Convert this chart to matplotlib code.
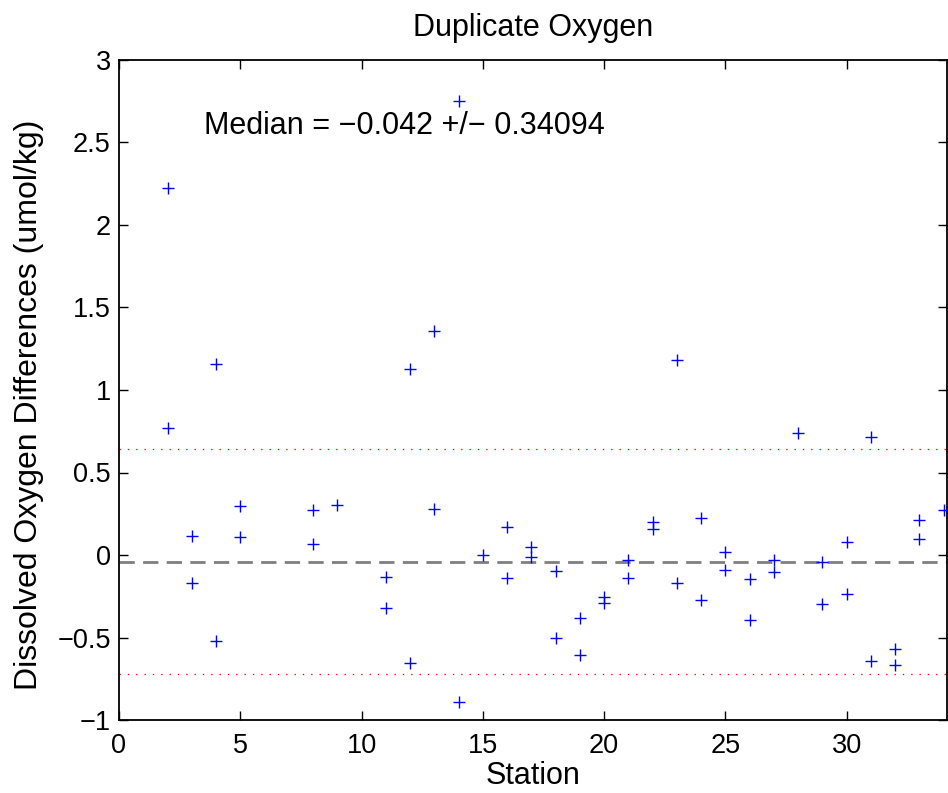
import numpy as np
import matplotlib
matplotlib.use("Agg")
import matplotlib.pyplot as plt

plt.rcParams['font.family'] = ['Liberation Sans', 'DejaVu Sans']
plt.rcParams['lines.scale_dashes'] = False

# duplicate oxygen differences, one entry per duplicate pair
station = [2, 2, 3, 3, 4, 4, 5, 5, 8, 8, 9, 11, 11, 12, 12, 13, 13, 14, 14, 15,
           16, 16, 17, 17, 18, 18, 19, 19, 20, 20, 21, 21, 22, 22, 23, 23, 24, 24,
           25, 25, 26, 26, 27, 27, 28, 29, 29, 30, 30, 31, 31, 32, 32, 33, 33, 34]
diff = [2.225, 0.768, 0.114, -0.169, 1.155, -0.52, 0.296, 0.108, 0.272, 0.068,
        0.306, -0.136, -0.322, 1.128, -0.656, 1.356, 0.28, 2.75, -0.89, -0.003,
        0.169, -0.142, 0.047, -0.011, -0.094, -0.506, -0.379, -0.607, -0.253, -0.29,
        -0.031, -0.138, 0.199, 0.155, 1.18, -0.167, 0.225, -0.274, 0.019, -0.092,
        -0.148, -0.391, -0.033, -0.104, 0.738, -0.044, -0.294, 0.078, -0.235, 0.718,
        -0.643, -0.567, -0.668, 0.211, 0.094, 0.27]

median = -0.042
spread = 0.34094

xticks = [0, 5, 10, 15, 20, 25, 30]
yticks = [-1, -0.5, 0, 0.5, 1, 1.5, 2, 2.5, 3]
ytick_labels = ['\u22121', '\u22120.5', '0', '0.5', '1', '1.5', '2', '2.5', '3']

fig = plt.figure(figsize=(9.48, 7.93), dpi=100)
ax = fig.add_axes([119 / 948, 1 - 720 / 793, (946.5 - 119) / 948, (720 - 60) / 793])

ax.plot(station, diff, '+', color='blue', markersize=9, markeredgewidth=1.0, zorder=3)
ax.axhline(median, color='#7f7f7f', linewidth=2, linestyle=(0, (11, 6)), zorder=2)
ax.axhline(median + 2 * spread, color='red', linewidth=0.9, linestyle=(0, (1, 5)))
ax.axhline(median - 2 * spread, color='red', linewidth=0.9, linestyle=(0, (1, 5)))

ax.text(3.5, 2.6, 'Median = \u22120.042 +/\u2212 0.34094', fontsize=22,
        va='center', ha='left')

ax.set_xlim(0, 34.12)
ax.set_ylim(-1, 3)
ax.set_xticks(xticks)
ax.set_xticklabels([str(t) for t in xticks])
ax.set_yticks(yticks)
ax.set_yticklabels(ytick_labels)

ax.tick_params(direction='in', length=6.5, width=1, top=True, right=True,
               labelsize=19.5)
ax.tick_params(axis='x', pad=9.5)
ax.tick_params(axis='y', pad=6)
for s in ax.spines.values():
    s.set_linewidth(1.3)

ax.set_title('Duplicate Oxygen', fontsize=22, pad=17)
ax.set_xlabel('Station', fontsize=22, labelpad=1)
ax.set_ylabel('Dissolved Oxygen Differences (umol/kg)', fontsize=23)
ax.yaxis.set_label_coords(-0.091, 0.477)

fig.savefig('out.png', dpi=100)
